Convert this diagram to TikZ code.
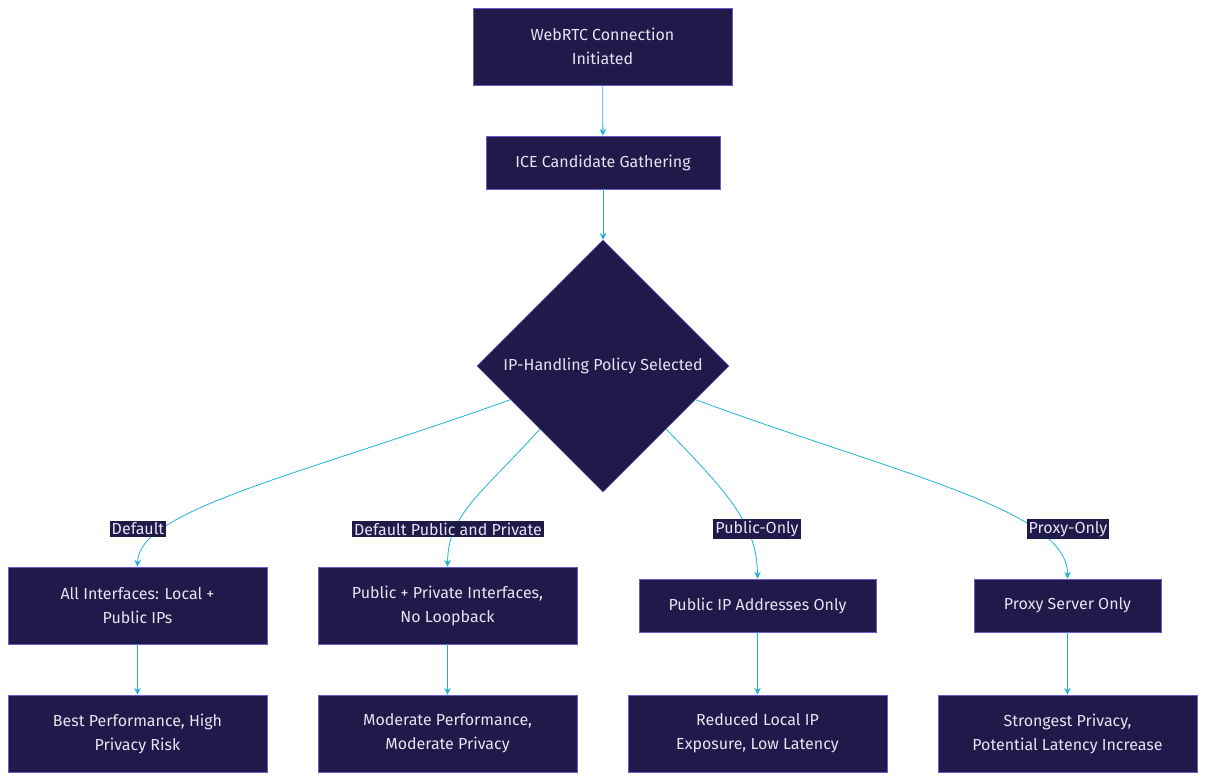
\documentclass[tikz,border=0pt]{standalone}
\usepackage{fontspec}
\setmainfont{Fira Sans}
\usetikzlibrary{shapes.geometric,arrows.meta}
\definecolor{boxfill}{HTML}{1F1A4A}
\definecolor{boxline}{HTML}{6A5ACD}
\definecolor{boxtext}{HTML}{E4E4F0}
\definecolor{wire}{HTML}{1EB4D4}
\tikzset{
  box/.style={draw=boxline, fill=boxfill, text=boxtext, align=center, inner sep=0pt, font=\fontsize{12}{18}\selectfont},
  tag/.style={fill=boxfill, text=boxtext, inner sep=1.5pt, font=\fontsize{12}{14}\selectfont},
  wire/.style={draw=wire, line width=0.6pt},
  go/.style={wire, -{Stealth[length=5pt,width=5pt]}}
}
\begin{document}
\begin{tikzpicture}[x=0.75pt,y=-0.75pt]
            \useasboundingbox (0,0) rectangle (1206,781);

            \node[box, minimum width=194pt, minimum height=58pt] (start) at (602.5,46.5) {WebRTC Connection\\Initiated};
            \node[box, minimum width=175.5pt, minimum height=40pt] (ice) at (603,162.5) {ICE Candidate Gathering};
            \node[box, diamond, minimum width=189pt, minimum height=189pt] (policy) at (603,366) {IP-Handling Policy Selected};

            \node[box, minimum width=194pt, minimum height=58pt] (all) at (137.5,605.5) {All Interfaces: Local +\\Public IPs};
            \node[box, minimum width=194pt, minimum height=58pt] (pubpriv) at (447.5,605.5) {Public + Private Interfaces,\\No Loopback};
            \node[box, minimum width=178pt, minimum height=40pt] (pubonly) at (757.5,605.5) {Public IP Addresses Only};
            \node[box, minimum width=140pt, minimum height=40pt] (proxy) at (1067.5,605.5) {Proxy Server Only};

            \node[box, minimum width=194pt, minimum height=58pt] (best) at (137.5,733.5) {Best Performance, High\\Privacy Risk};
            \node[box, minimum width=194pt, minimum height=58pt] (moderate) at (447.5,733.5) {Moderate Performance,\\Moderate Privacy};
            \node[box, minimum width=194pt, minimum height=58pt] (reduced) at (757.5,733.5) {Reduced Local IP\\Exposure, Low Latency};
            \node[box, minimum width=194pt, minimum height=58pt] (strong) at (1067.5,733.5) {Strongest Privacy,\\Potential Latency Increase};

            \draw[go] (start) -- (ice);
            \draw[go] (ice) -- (policy);

            % branches out of the decision
            \draw[go] (policy.200) .. controls (300,475) and (138,510) .. (all.north);
            \draw[go] (policy.south west) .. controls (480,495) and (448,515) .. (pubpriv.north);
            \draw[go] (policy.south east) .. controls (730,495) and (757,525) .. (pubonly.north);
            \draw[go] (policy.340) .. controls (900,475) and (1068,510) .. (proxy.north);

            \node[tag] (tdefault) at (138,529) {Default};
            \node[tag] (tpubpriv) at (448,529) {Default Public and Private};
            \node[tag] (tpubonly) at (757,529) {Public-Only};
            \node[tag] (tproxy) at (1068,529) {Proxy-Only};

            \draw[go] (all) -- (best);
            \draw[go] (pubpriv) -- (moderate);
            \draw[go] (pubonly) -- (reduced);
            \draw[go] (proxy) -- (strong);

        \end{tikzpicture}
\end{document}
